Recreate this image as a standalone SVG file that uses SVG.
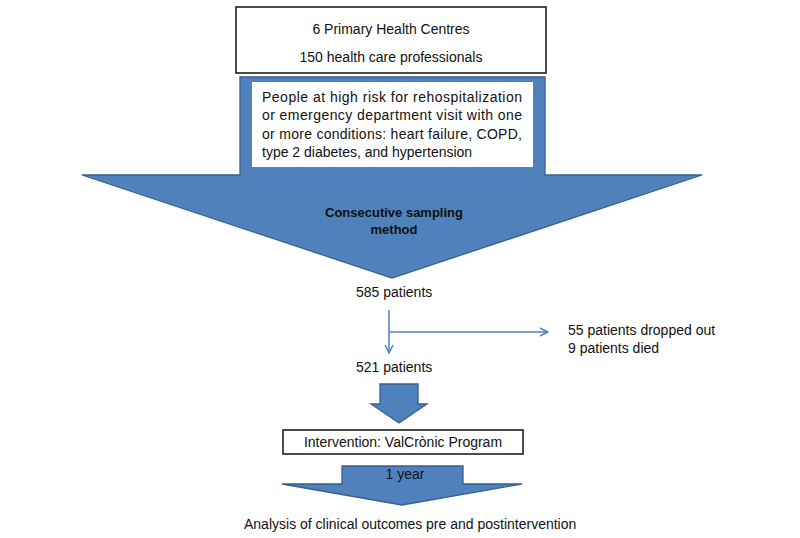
<svg xmlns="http://www.w3.org/2000/svg" width="800" height="538" viewBox="0 0 800 538">
<defs>
<style>
text{font-family:"Liberation Sans",Arial,sans-serif;font-size:14px;fill:#111}
.c{text-anchor:middle}
.b{font-weight:bold;font-size:13px}
.blk{fill:#4F81BD;stroke:#3A5F8C;stroke-width:1.3}
.box{fill:#fff;stroke:#111;stroke-width:1.5}
.ln{fill:none;stroke:#4F81BD;stroke-width:1.5}
</style>
<marker id="chev" viewBox="0 0 10 10" refX="9" refY="5" markerWidth="10" markerHeight="10" markerUnits="userSpaceOnUse" orient="auto">
<path d="M1,1 L9,5 L1,9" fill="none" stroke="#4F81BD" stroke-width="1.5"/>
</marker>
</defs>
<rect width="800" height="538" fill="#fff"/>
<g id="centres">
<rect class="box" x="236" y="7" width="310" height="66"/>
<text class="c" x="391" y="34">6 Primary Health Centres</text>
<text class="c" x="391" y="62">150 health care professionals</text>
</g>
<g id="population">
<polygon class="blk" points="240,77 545,77 545,175 702,175 392,278 82,175 240,175"/>
<rect x="252" y="82" width="281" height="85" fill="#fff"/>
<text x="262" y="102" textLength="260" lengthAdjust="spacing">People at high risk for rehospitalization</text>
<text x="262" y="120" textLength="260" lengthAdjust="spacing">or emergency department visit with one</text>
<text x="262" y="139" textLength="260" lengthAdjust="spacing">or more conditions: heart failure, COPD,</text>
<text x="262" y="157">type 2 diabetes, and hypertension</text>
<text class="c b" x="394" y="217">Consecutive sampling</text>
<text class="c b" x="394" y="234">method</text>
</g>
<g id="n585"><text x="356" y="297">585 patients</text></g>
<g id="excluded">
<text x="568" y="335">55 patients dropped out</text>
<text x="568" y="353">9 patients died</text>
</g>
<g id="n521"><text x="356" y="372">521 patients</text></g>
<g id="connectors">
<line class="ln" x1="389" y1="310" x2="389" y2="353" marker-end="url(#chev)"/>
<line class="ln" x1="389" y1="332" x2="548" y2="332" marker-end="url(#chev)"/>
<polygon class="blk" points="380,384 418,384 418,404 427,404 399,423 371,404 380,404"/>
</g>
<g id="intervention">
<rect class="box" x="283" y="430" width="240" height="24"/>
<text class="c" x="403" y="447">Intervention: ValCrònic Program</text>
</g>
<g id="year">
<polygon class="blk" points="342,466 463,466 463,484 522,484 402,505 282,484 342,484"/>
<text class="c" x="405" y="479">1 year</text>
</g>
<g id="analysis">
<text x="244" y="529">Analysis of clinical outcomes pre and postintervention</text>
</g>
</svg>
